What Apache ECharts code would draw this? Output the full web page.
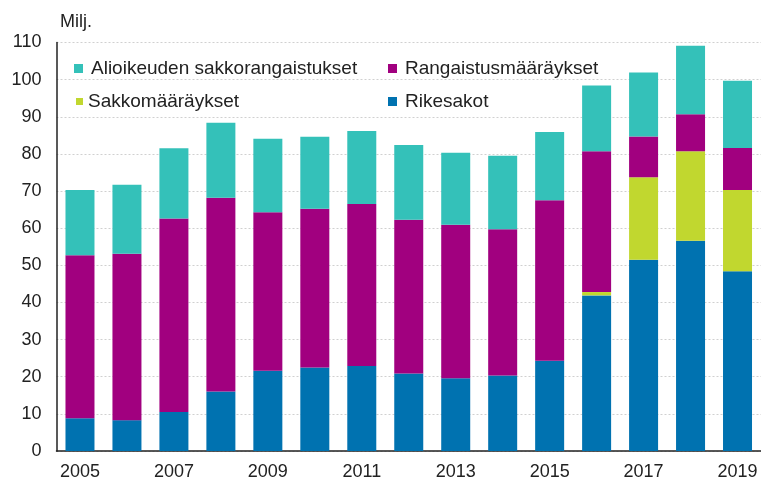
<!DOCTYPE html>
<html><head><meta charset="utf-8">
<script src="https://cdn.jsdelivr.net/npm/echarts@6/dist/echarts.min.js"></script>
<style>html,body{margin:0;padding:0;background:#fff}#c{width:761px;height:481px}</style>
</head><body><div id="c"></div>
<script>
var years = ['2005','2006','2007','2008','2009','2010','2011','2012','2013','2014','2015','2016','2017','2018','2019'];
var rikesakot = [8.8,8.3,10.5,16.0,21.6,22.5,22.9,20.9,19.6,20.3,24.3,41.9,51.5,56.6,48.4];
var sakkomaaraykset = [0,0,0,0,0,0,0,0,0,0,0,0.9,22.2,24.1,21.9];
var rangaistusmaaraykset = [43.9,44.8,52.1,52.2,42.7,42.7,43.6,41.4,41.3,39.4,43.2,37.9,11.0,10.0,11.3];
var alioikeuden = [17.6,18.6,18.9,20.2,19.8,19.4,19.7,20.1,19.4,19.8,18.4,17.7,17.2,18.4,18.1];
var yTicks = {min:0, max:110, interval:10};

var font = 'Liberation Sans, Arial, sans-serif';
var txt = {color:'#222', fontSize:18, fontFamily:font};
function lg(name, left, top, sz, pad){
  return {data:[name], left:left, top:top, itemWidth:sz, itemHeight:sz, icon:'rect',
    textStyle:{color:'#222', fontSize:19, fontFamily:font, padding:[0,0,0,pad]}};
}
var chart = echarts.init(document.getElementById('c'));
chart.setOption({
  animation:false,
  grid:{left:56.5, top:42.5, bottom:30, width:707},
  legend:[lg('Alioikeuden sakkorangaistukset',69,54,9,3), lg('Rangaistusmääräykset',383,54,9,3),
          lg('Sakkomääräykset',71,87,7,0), lg('Rikesakot',383,87,9,3)],
  graphic:[{type:'text', left:60, top:13, style:{text:'Milj.', fill:'#222', font:'18px '+font}}],
  xAxis:{type:'category', data:years,
    axisLine:{lineStyle:{color:'#222', width:1.5}}, axisTick:{show:false},
    axisLabel:Object.assign({interval:1, margin:12}, txt)},
  yAxis:{type:'value', min:yTicks.min, max:yTicks.max, interval:yTicks.interval,
    axisLine:{show:true, lineStyle:{color:'#222', width:1.5}},
    axisLabel:Object.assign({margin:15}, txt),
    splitLine:{lineStyle:{color:'#d0d0d0', type:[2,2]}}},
  series:[
    {name:'Rikesakot', type:'bar', stack:'a', data:rikesakot, barWidth:29, itemStyle:{color:'#0072b0'}},
    {name:'Sakkomääräykset', type:'bar', stack:'a', data:sakkomaaraykset, itemStyle:{color:'#c1d72f'}},
    {name:'Rangaistusmääräykset', type:'bar', stack:'a', data:rangaistusmaaraykset, itemStyle:{color:'#a1007f'}},
    {name:'Alioikeuden sakkorangaistukset', type:'bar', stack:'a', data:alioikeuden, itemStyle:{color:'#34c1b9'}}
  ]
});
</script></body></html>
